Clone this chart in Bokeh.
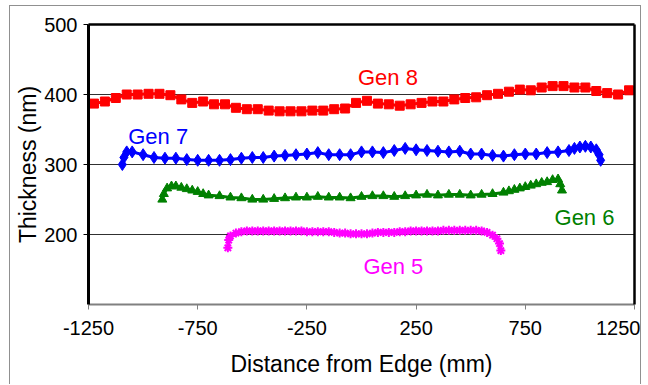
from bokeh.plotting import figure
from bokeh.models import Range1d, FixedTicker, LinearAxis
from bokeh.core.properties import value
from bokeh.embed import file_html
from bokeh.resources import INLINE

FONT = "Liberation Sans"

x_ticks = [-1250, -750, -250, 250, 750, 1250]
y_ticks = [200, 300, 400, 500]
grid_ticks = [200, 300, 400]

gen8_x = [-1225, -1175, -1125, -1075, -1025, -975, -925, -875, -825, -775,
          -725, -675, -625, -575, -525, -475, -425, -375, -325, -275,
          -225, -175, -125, -75, -25, 25, 75, 125, 175, 225,
          275, 325, 375, 425, 475, 525, 575, 625, 675, 725,
          775, 825, 875, 925, 975, 1025, 1075, 1125, 1175, 1225]
gen8_y = [387, 390, 395, 400, 400, 401, 401, 399, 393, 388,
          390, 386, 386, 381, 379, 379, 377, 376, 376, 376,
          377, 377, 379, 380, 388, 391, 387, 386, 384, 386,
          388, 390, 390, 393, 395, 396, 399, 401, 404, 407,
          406, 410, 412, 412, 410, 410, 405, 402, 400, 406]

gen7_x = [-1095, -1088, -1075, -1050, -1000, -950, -900, -850, -800, -750,
          -700, -650, -600, -550, -500, -450, -400, -350, -300, -250,
          -200, -150, -100, -50, 0, 50, 100, 150, 200, 250,
          300, 350, 400, 450, 500, 550, 600, 650, 700, 750,
          800, 850, 900, 950, 975, 1000, 1025, 1050, 1075, 1088, 1095]
gen7_y = [300, 310, 318, 318, 314, 310, 309, 309, 307, 306,
          306, 306, 307, 309, 310, 310, 312, 313, 314, 315,
          317, 314, 314, 314, 318, 318, 317, 320, 323, 321,
          320, 319, 318, 319, 315, 315, 313, 312, 314, 315,
          315, 317, 318, 320, 323, 325, 326, 325, 321, 314, 306]

gen6_x = [-912, -905, -890, -870, -850, -825, -800, -775, -750, -725,
          -700, -650, -600, -550, -500, -450, -400, -350, -300, -250,
          -200, -150, -100, -50, 0, 50, 100, 150, 200, 250,
          300, 350, 400, 450, 500, 550, 600, 650, 675, 700,
          725, 750, 775, 800, 825, 850, 875, 900, 910, 918]
gen6_y = [250, 258, 266, 269, 269, 267, 265, 263, 261, 258,
          256, 255, 253, 252, 250, 250, 251, 252, 253, 253,
          254, 253, 253, 252, 254, 255, 255, 254, 255, 256,
          257, 256, 257, 257, 256, 257, 258, 260, 262, 264,
          266, 268, 270, 272, 274, 275, 278, 279, 272, 263]

gen5_x = [-612, -608, -600, -575, -550, -525, -500, -475, -450, -425,
          -400, -375, -350, -325, -300, -275, -250, -225, -200, -175,
          -150, -125, -100, -75, -50, -25, 0, 25, 50, 75,
          100, 125, 150, 175, 200, 225, 250, 275, 300, 325,
          350, 375, 400, 425, 450, 475, 500, 525, 550, 575,
          600, 620, 632, 638]
gen5_y = [181, 192, 198, 202, 204, 205, 205, 205, 205, 205,
          205, 205, 205, 205, 205, 205, 204, 204, 204, 204,
          204, 203, 202, 202, 201, 201, 201, 201, 202, 203,
          203, 203, 203, 204, 204, 205, 205, 205, 205, 205,
          205, 206, 206, 206, 206, 206, 206, 206, 205, 203,
          199, 194, 187, 177]

label_text = ["Gen 8", "Gen 7", "Gen 6", "Gen 5"]
label_x = [121, -931, 1021, 146]
label_y = [425, 340, 224, 155]
label_color = ["#FF0000", "#0000FF", "#008000", "#FF00FF"]

p = figure(width=632, height=379,
           x_range=Range1d(-1250, 1250), y_range=Range1d(100, 500),
           output_backend="svg", toolbar_location=None,
           min_border_left=78, min_border_right=8,
           min_border_top=18, min_border_bottom=81)
p.styles = {"margin-left": "9px", "margin-top": "5px",
            "border-left": "1px solid #909090",
            "border-top": "1px solid #909090",
            "border-right": "1px solid #909090"}
p.outline_line_color = None
p.background_fill_color = "white"
p.border_fill_color = "white"

xa = p.xaxis[0]
xa.ticker = FixedTicker(ticks=x_ticks)
xa.major_label_overrides = {t: str(t) for t in x_ticks}
xa.axis_label = "Distance from Edge (mm)"
xa.axis_line_color = "#808080"
xa.axis_line_width = 2
xa.major_tick_line_color = "#808080"
xa.major_tick_out = 5
xa.major_tick_in = 0
xa.minor_tick_line_color = None
xa.major_label_standoff = 11
xa.axis_label_standoff = 13
xa.major_label_text_font = FONT
xa.major_label_text_font_size = "20px"
xa.major_label_text_color = "black"
xa.axis_label_text_font = FONT
xa.axis_label_text_font_size = "23px"
xa.axis_label_text_font_style = "normal"
xa.axis_label_text_color = "black"

ya = p.yaxis[0]
ya.ticker = FixedTicker(ticks=y_ticks)
ya.axis_label = "Thickness (nm)"
ya.axis_line_color = "black"
ya.axis_line_width = 3
ya.major_tick_line_color = "black"
ya.major_tick_out = 5
ya.major_tick_in = 0
ya.minor_tick_line_color = None
ya.major_label_standoff = 6
ya.axis_label_standoff = 0
ya.major_label_text_font = FONT
ya.major_label_text_font_size = "20px"
ya.major_label_text_color = "black"
ya.axis_label_text_font = FONT
ya.axis_label_text_font_size = "23px"
ya.axis_label_text_font_style = "normal"
ya.axis_label_text_color = "black"

for loc in ("above", "right"):
    ax = LinearAxis(ticker=FixedTicker(ticks=[]), axis_line_color="black",
                    axis_line_width=2.5, major_tick_line_color=None,
                    minor_tick_line_color=None, major_tick_out=0,
                    major_tick_in=0, major_label_standoff=0)
    p.add_layout(ax, loc)

p.xgrid.visible = False
p.ygrid.ticker = FixedTicker(ticks=grid_ticks)
p.ygrid.grid_line_color = "#303030"
p.ygrid.grid_line_width = 1

# Gen 8
p.line(gen8_x, gen8_y, line_color="#FF0000", line_width=3)
p.scatter(gen8_x, gen8_y, marker="square", size=9, fill_color="#FF0000",
          line_color="#FF0000")
# Gen 7
p.line(gen7_x, gen7_y, line_color="#0000FF", line_width=3)
p.scatter(gen7_x, gen7_y, marker="diamond", size=12, fill_color="#0000FF",
          line_color="#0000FF")
# Gen 6
p.line(gen6_x, gen6_y, line_color="#008000", line_width=3)
p.scatter(gen6_x, gen6_y, marker="triangle", size=9, fill_color="#008000",
          line_color="#008000")
# Gen 5
p.line(gen5_x, gen5_y, line_color="#FF00FF", line_width=4)
p.scatter(gen5_x, gen5_y, marker="asterisk", size=9, line_color="#FF00FF",
          line_width=2)

p.text(x=label_x, y=label_y, text=label_text, text_color=label_color,
       text_font=value(FONT), text_font_size="22px",
       text_align="center", text_baseline="middle")

open("out.html", "w").write(file_html(p, INLINE))
